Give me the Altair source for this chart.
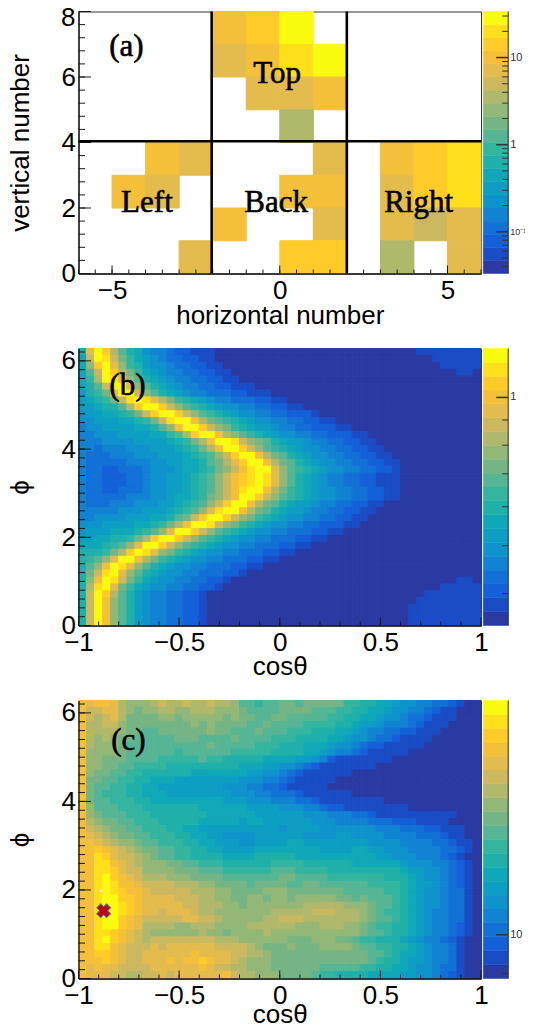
import altair as alt
import pandas as pd

PALETTE = ["#2b3aa3", "#1a4cc6", "#1460d8", "#1271d6", "#1282d2", "#0f93cc", "#0e9ec4", "#10a8b8",
           "#1fb0aa", "#33b5a0", "#55b594", "#75b585", "#93b777", "#b0b86c", "#ccb85f", "#e3bc4d",
           "#f4c03a", "#ffcb28", "#fde01a", "#f9fb0e"]
DIGITS = "0123456789abcdefghij"

A_ROWS = ["....ghj.....", "....fgij....", ".....ffg....", "......d.....",
          "..gf...f.ghi", ".gf...gg.fhi", "....g..f.fef", "...f..hh.d.f"]

B_ROWS = [
    "8fjhda87544322111|11111111", "7ejieb97654332211|111111", "7chjfc986554332211|11111",
    "7aejhdb976544332211|110", "79djifca876544332211", "78aejjfca8765443322111",
    "689bfjjeca87654433322111", "6789beijifdb98765443332211", "66788adhjjheca98765544332211",
    "5667789behjjheca98765544332221", "556667789beijjgdba98765544332211",
    "4556666778acgjjhecb987665443322211", "445556666779adhjjgdca987655443322211",
    "44455556666789bdgjjiecba8766544332211", "443444555666789bdgjjheca98765544332211",
    "4333444555666789acehjjgdba8765544332211", "4333334445566778abdfhjjgdba8765544332211",
    "43322333455567789bcegijjfca9876554433221", "4332223345566789aceghijifca8765443322111",
    "4332223345566789aceghijifca8765443322111", "4332233345566789acegijjgdb98765544332211",
    "4333334445567789bcegjjheca98765544332211", "433344455566789acehjjgdba8766544332211",
    "44444555666789acfijjgdba8766544332211", "445555666778abehjjhecb98765544332211",
    "55566667789bdgjjiecb987655443322211", "566677789acfjjheca987655443332211",
    "6677889bdhjjheca987655443332211", "77789acfjjheca987655443332211",
    "8889bdhjifcb987655443332211", "89acfjjgdb987655443332211", "8acgjifca87655443332211",
    "8beijfca8765544333221", "8cgjieb976554433221|110", "8dijfb976554433221|11111",
    "8ejhda8654433221|1111111", "8ejgca8654433221|11111111", "8ejgca8654433221|111111111",
    "8ejgca8654433221|111111111", "8ejgca8654433221|111111111",
]

C_ROWS = [
    "gfggfdcccdeddeddeddcaa9aabbabbbbb99887765544332100",
    "geeffdcbccddccdddcccbaaaabbbbaaa998877655443211000",
    "gedefdbbbbccbcccccbcbbaabbaaaaa9988776554332111000",
    "gddeecbbbbbbbbcbcbbbbaabaaaa9999887665444321110000",
    "gddddcbbaabbbbbbcbbaaabaaa999888776544332211100000",
    "gdcdcbbaaaaabbbaaaabaaaa99988887765543321111000000",
    "gdcccbaaaaaaaaaabaaaaa999888777655432211111000000",
    "gccccbaaaaaa9aaaaaa99999888877654432111110000000",
    "gccbbbaaaa99999a99888887777665421111111000000000",
    "gccbbaa9999888888888777665543211111110000000000000",
    "gcbbaa99888888777777766554321111110000000000000000",
    "gbbaa998877766666666555443211111000000000000000000",
    "gbaa9988776666666655544332111110000000000000000000",
    "gba99988777666666665554433321111110000000000000000",
    "gbaa99988777777777666555444332111111110000000000",
    "gcaaa9998888888777777666655544322111111110000000",
    "gcbaaa99988888887777776666665554443321111111111000",
    "gdcbbaa9998888877777677666666555444433322211110000",
    "gedcbbaa999887766666666665666655555554443332211100",
    "gfedcbbaa99988776655556666665555665555444433321100",
    "ggfedccbaa9998877666556666776666666655554444332110",
    "gghgfedcbbaa99887766667777777766667766555444433210",
    "ggihfeedcbaa9988887777888887777777777665554443210",
    "ggiigfedcccbbaa99988888899998888887777776555443210",
    "ggiihfeeccccbbbaaa999999aaa99998888888887665543210",
    "ggijhgfedddcccbbbbaaaaaaabbaaaa9999999888765543210",
    "ggijiggfeeeedddccbbbbabbbbaabbaaaaaa99998766543210",
    "ggijihggfeeeeedddccbbbbcccbbbbbbbaaaaa998765543310",
    "ggijjhhgffffeeeddccbbccbccbcccccbbabaaa98765543310",
    "ggijjihgfffffeedddccbcccccccdddddcccbaa98765543310",
    "ggijjihgffefffeddcccccccdddddeeedddcba998765443310",
    "ggijjhgfeeeeeffeedcccccddeeedddddddcbaa98765443310",
    "ggijjhgfddddccdddccccddddddcccdddccba9988765443210",
    "ggiihgfedccccccdccbccccdcccccccccccbaa988765443210",
    "ggijhgfedeeeeeeeedddccccccbbbcccbba99888765443210",
    "ggiigfeeefeffffffeeeedcbbbcbbbccccbaa9988765443100",
    "gghhgfeeffffffgffffeeddcbbbbbbbbbbbbaa987765443100",
    "ggghgfeefffgfgghgffedcccbbbbbbbbbbbba9887665443100",
    "gfgffeeeeffffffgfeeddcccbbbbbbaaaaa998877655433100",
    "gfffeeddeefeffffffgeddcccbbbba99888877776655432100",
]

A_X_MAJOR, A_X_MINOR = [-5, 0, 5], [x / 2 for x in range(-12, 13)]
A_Y_MAJOR, A_Y_MINOR = [0, 2, 4, 6, 8], [y * 0.4 for y in range(21)]
C_X_MAJOR, C_X_MINOR = [-1, -0.5, 0, 0.5, 1], [x / 10 for x in range(-10, 11)]
P_Y_MAJOR, P_Y_MINOR = [0, 2, 4, 6], [y / 5 for y in range(32)]

BAR_A = dict(domain=[0.0332, 33.8], major=[0.1, 1, 10],
             minor=[.04, .05, .06, .07, .08, .09, .2, .3, .4, .5, .6, .7, .8, .9, 2, 3, 4, 5, 6, 7, 8, 9, 20, 30],
             labels=["10⁻¹", "1", "10"], sizes=[9, 11, 11])
BAR_B = dict(domain=[0.3445, 1.257], major=[1], minor=[.4, .5, .6, .7, .8, .9], labels=["1"], sizes=[11])
BAR_C = dict(domain=[8.88, 18.9], major=[10], minor=[9], labels=["10"], sizes=[11])

SANS = "Liberation Sans"
TICK = "#1a1a1a"
WIDTH = 402.5
BAR_W = 25


def expand(rows, ncols):
    out = []
    for row in rows:
        left, _, right = row.partition("|")
        out.append((left + "0" * 60)[:ncols - len(right)] + right)
    return out


def fit(rows, ncols):
    return [(r + r[-1] * ncols)[:ncols] for r in rows]


def frame(rows, x0, x1, y1):
    nr, nc = len(rows), len(rows[0])
    rec = []
    for r, row in enumerate(rows):
        for i, ch in enumerate(row[:nc]):
            if ch in DIGITS:
                rec.append(dict(x=x0 + (x1 - x0) * i / nc, x2=x0 + (x1 - x0) * (i + 1) / nc,
                                y=y1 * (1 - (r + 1) / nr), y2=y1 * (1 - r / nr), level=DIGITS.index(ch)))
    return pd.DataFrame(rec)


color_scale = alt.Scale(domain=list(range(20)), range=PALETTE)


def panel(df, xdom, ydom, xmaj, xmin, ymaj, ymin, xtitle, ytitle, h, ypad, xpad, extra):
    sx = alt.Scale(domain=xdom, nice=False, zero=False)
    sy = alt.Scale(domain=ydom, nice=False, zero=False)
    xaxis = alt.Axis(values=xmaj, title=xtitle, grid=False, ticks=False, domain=True, domainColor=TICK,
                     domainWidth=1.4, zindex=1, labelFont=SANS, labelFontSize=26, labelColor="black",
                     labelPadding=4, labelFlush=False, labelBound=False, labelOverlap=False, format="~g",
                     titleFont=SANS, titleFontSize=26, titleFontWeight="normal", titleColor="black",
                     titlePadding=xpad)
    yaxis = alt.Axis(values=[v for v in ymaj if v < 8], title=ytitle, grid=False, ticks=False, domain=True,
                     domainColor=TICK, domainWidth=1.4, zindex=1, labelFont=SANS, labelFontSize=26,
                     labelColor="black", labelPadding=3, labelFlush=False, labelBound=False, labelOverlap=False,
                     titleFont=SANS, titleFontSize=26, titleFontWeight="normal", titleColor="black",
                     titlePadding=ypad)
    X = lambda f: alt.X(f, scale=sx, axis=xaxis)
    Y = lambda f: alt.Y(f, scale=sy, axis=yaxis)
    rects = alt.Chart(df).mark_rect(strokeWidth=1).encode(
        x=X("x:Q"), x2="x2:Q", y=Y("y:Q"), y2="y2:Q",
        color=alt.Color("level:O", scale=color_scale, legend=None),
        stroke=alt.Stroke("level:O", scale=color_scale, legend=None),
    )
    layers = [rects]
    for values, length in ((xmin, 4), (xmaj, 8)):
        layers.append(alt.Chart(pd.DataFrame({"v": values})).mark_rule(color=TICK, strokeWidth=1).encode(
            x=X("v:Q"), y=alt.value(h), y2=alt.value(h - length)))
    for values, length in ((ymin, 6.5), (ymaj, 12.5)):
        layers.append(alt.Chart(pd.DataFrame({"v": values})).mark_rule(color=TICK, strokeWidth=1).encode(
            y=Y("v:Q"), x=alt.value(0), x2=alt.value(length)))
    layers += [lay(X, Y) for lay in extra]
    return alt.layer(*layers).properties(width=WIDTH, height=h)


def notes(texts, xs, ys, size):
    def build(X, Y):
        d = pd.DataFrame({"t": texts, "x": xs, "y": ys})
        return alt.Chart(d).mark_text(font="Liberation Serif", fontSize=size, color="black", stroke="black",
                                      strokeWidth=0.6, align="center", baseline="middle").encode(
            x=X("x:Q"), y=Y("y:Q"), text="t:N")
    return build


def top_label(X, Y):
    return alt.Chart(pd.DataFrame({"t": ["8"]})).mark_text(
        font=SANS, fontSize=26, color="black", align="right", baseline="middle").encode(
        x=alt.value(-3), y=alt.value(6), text="t:N")


def bar(spec, h):
    sl = alt.Scale(type="log", domain=spec["domain"], nice=False)
    levels = pd.DataFrame({"lo": list(range(20)), "hi": list(range(1, 21)), "level": list(range(20))})
    rects = alt.Chart(levels).mark_rect(strokeWidth=0.5).encode(
        x=alt.value(0), x2=alt.value(BAR_W),
        y=alt.Y("lo:Q", scale=alt.Scale(domain=[0, 20], nice=False, zero=False), axis=None), y2="hi:Q",
        color=alt.Color("level:O", scale=color_scale, legend=None),
        stroke=alt.Stroke("level:O", scale=color_scale, legend=None))
    minor = alt.Chart(pd.DataFrame({"v": spec["minor"]})).mark_rule(color="#333333", strokeWidth=1).encode(
        y=alt.Y("v:Q", scale=sl, axis=None), x=alt.value(BAR_W), x2=alt.value(BAR_W - 6))
    major = alt.Chart(pd.DataFrame({"v": spec["major"]})).mark_rule(color="#333333", strokeWidth=1.5).encode(
        y=alt.Y("v:Q", scale=sl, axis=None), x=alt.value(BAR_W), x2=alt.value(BAR_W - 12))
    edge = alt.Chart(pd.DataFrame({"v": spec["domain"]})).mark_line(color="#333333", strokeWidth=1).encode(
        y=alt.Y("v:Q", scale=sl, axis=None), x=alt.value(BAR_W))
    text = alt.Chart(pd.DataFrame({"v": spec["major"], "t": spec["labels"], "s": spec["sizes"]})).mark_text(
        font=SANS, color="#333333", align="left", baseline="middle").encode(
        y=alt.Y("v:Q", scale=sl, axis=None), x=alt.value(BAR_W + 2), text="t:N",
        size=alt.Size("s:Q", scale=None, legend=None))
    return alt.layer(rects, edge, minor, major, text).resolve_scale(y="independent").properties(
        width=BAR_W, height=h, view=alt.ViewBackground(stroke=None))


def a_lines(X, Y):
    d = pd.DataFrame({"x": [-2.03, 2.0, -6], "x2": [-2.03, 2.0, 6], "y": [0, 0, 4.04], "y2": [8, 8, 4.04]})
    return alt.Chart(d).mark_rule(color="black", strokeWidth=2.6).encode(
        x=X("x:Q"), x2="x2:Q", y=Y("y:Q"), y2="y2:Q")


def c_marks(X, Y):
    d = pd.DataFrame({"x": [-0.875], "y": [1.53]})
    cross = alt.Chart(d).mark_point(shape="cross", angle=45, size=190, filled=True, fill="#c0001e",
                                    stroke="#55658f", strokeWidth=1, opacity=1).encode(
        x=X("x:Q"), y=Y("y:Q"))
    gap = pd.DataFrame({"x": [-0.89], "y": [1.98]})
    dot = alt.Chart(gap).mark_square(size=5, color="white", opacity=1).encode(
        x=X("x:Q"), y=Y("y:Q"))
    return alt.layer(cross, dot)


df_a = frame(A_ROWS, -6, 6, 8)
df_b = frame(expand(B_ROWS, 50), -1, 1, 6.28)
df_c = frame(fit(C_ROWS, 50), -1, 1, 6.28)

pa = panel(df_a, [-6, 6], [0, 8], A_X_MAJOR, A_X_MINOR, A_Y_MAJOR, A_Y_MINOR, "horizontal number",
           "vertical number", 262, 28, -1,
           [a_lines, top_label, notes(["(a)", "Top", "Left", "Back", "Right"], [-4.57, -0.08, -3.96, -0.11, 4.14],
                                      [6.92, 6.09, 2.16, 2.16, 2.16], 31)])
pb = panel(df_b, [-1, 1], [0, 6.28], C_X_MAJOR, C_X_MINOR, P_Y_MAJOR, P_Y_MINOR, "cosθ", "ϕ", 277, 28, -2,
           [notes(["(b)"], [-0.757], [5.43], 31)])
pc = panel(df_c, [-1, 1], [0, 6.28], C_X_MAJOR, C_X_MINOR, P_Y_MAJOR, P_Y_MINOR, "cosθ", "ϕ", 278, 28, -7,
           [notes(["(c)"], [-0.752], [5.37], 31), c_marks])

chart = alt.concat(pa, bar(BAR_A, 262), pb, bar(BAR_B, 277), pc, bar(BAR_C, 278), columns=2,
                   spacing={"row": 75, "column": 1.7}, bounds="flush",
                   autosize=alt.AutoSizeParams(type="none"),
                   padding={"left": 70.5, "top": 3.5, "right": 446.5, "bottom": 1011.5}).configure_view(
    stroke="#333333", strokeWidth=1)

chart.save("out.html", embed_options={"renderer": "svg", "actions": False})
